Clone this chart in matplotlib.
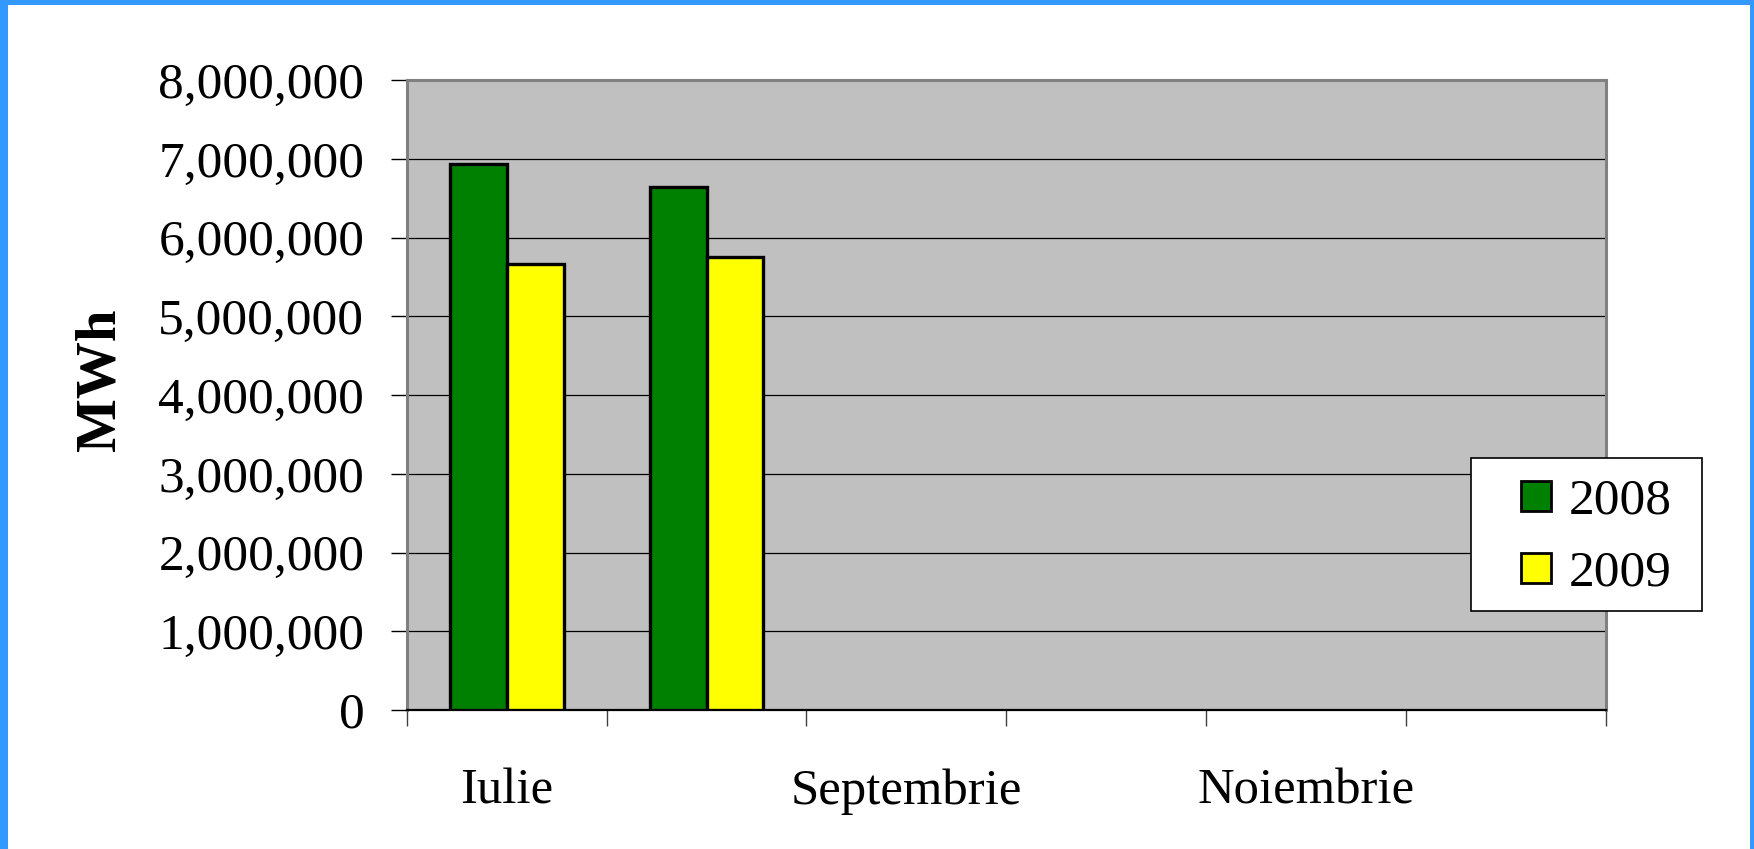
import matplotlib
matplotlib.use("Agg")
import matplotlib.pyplot as plt
from matplotlib.ticker import FuncFormatter, FixedLocator
from matplotlib.lines import Line2D
from matplotlib.patches import Rectangle

# ---- data ----
categories = ["Iulie", "August", "Septembrie", "Octombrie", "Noiembrie", "Decembrie"]
shown_labels = ["Iulie", "", "Septembrie", "", "Noiembrie", ""]
series_names = ["2008", "2009"]
values_2008 = [6934000, 6642000]
values_2009 = [5667000, 5747000]
y_ticks = [0, 1000000, 2000000, 3000000, 4000000, 5000000, 6000000, 7000000, 8000000]
colors = ["#008000", "#FFFF00"]

W, H = 1754, 849
plt.rcParams['font.family'] = ['Liberation Serif', 'DejaVu Serif']

fig = plt.figure(figsize=(W / 100, H / 100), dpi=100)
fig.patch.set_facecolor("white")

def fx(px):
    return px / W

def fy(py):
    return 1 - py / H

left, right, top, bottom = 406.7, 1606, 80, 710
ax = fig.add_axes([fx(left), fy(bottom), fx(right) - fx(left), (bottom - top) / H])
ax.set_facecolor("#C0C0C0")

bw = 0.285
x08 = [i - bw / 2 for i in range(len(values_2008))]
x09 = [i + bw / 2 for i in range(len(values_2009))]
ax.bar(x08, values_2008, width=bw, color=colors[0], edgecolor="black", linewidth=2.4, zorder=3)
ax.bar(x09, values_2009, width=bw, color=colors[1], edgecolor="black", linewidth=2.4, zorder=3)

ax.set_xlim(-0.5, len(categories) - 0.5)
ax.set_ylim(0, 8000000)
ax.yaxis.set_major_locator(FixedLocator(y_ticks))
ax.yaxis.set_major_formatter(FuncFormatter(lambda v, _: f"{int(v):,}"))
ax.yaxis.grid(True, color="black", linewidth=0.9, zorder=1)
ax.set_axisbelow(True)

ax.set_xticks(range(len(categories)))
ax.set_xticklabels(shown_labels)
ax.set_xticks([i - 0.5 for i in range(len(categories) + 1)], minor=True)
ax.tick_params(axis="x", which="major", length=0, pad=42, labelsize=36.5)
ax.tick_params(axis="x", which="minor", length=11.5, width=1, color="#404040")
ax.tick_params(axis="y", which="major", length=11.5, width=1, color="black", pad=19, labelsize=37)

for s in ["top", "right", "left"]:
    ax.spines[s].set_color("#808080")
    ax.spines[s].set_linewidth(2.2)
ax.spines["bottom"].set_color("black")
ax.spines["bottom"].set_linewidth(1.6)

fig.text(fx(101), fy(380), "MWh", rotation=90, fontsize=41, fontweight="bold",
         ha="center", va="center")

# legend
fig.add_artist(Rectangle((fx(1470.7), fy(611.3)), fx(1702.3) - fx(1470.7), (611.3 - 458.3) / H,
                         transform=fig.transFigure, facecolor="white", edgecolor="black",
                         linewidth=1.2, zorder=2))
handles = [Line2D([], [], marker="s", linestyle="none", markersize=22,
                  markerfacecolor=c, markeredgecolor="black", markeredgewidth=2)
           for c in colors]
leg = fig.legend(handles, series_names, loc="upper left",
                 bbox_to_anchor=(fx(1481.7), fy(478)), bbox_transform=fig.transFigure,
                 borderaxespad=0, borderpad=0, frameon=False, fontsize=37,
                 handlelength=2.13, handletextpad=-0.43, labelspacing=0.48,
                 handleheight=0.7)
leg.set_zorder(5)

# blue frame
blue = "#3399FF"
fig.add_artist(Rectangle((0, fy(5)), 1, 5 / H, transform=fig.transFigure, color=blue, lw=0, zorder=6))
fig.add_artist(Rectangle((0, 0), 8 / W, 1, transform=fig.transFigure, color=blue, lw=0, zorder=6))
fig.add_artist(Rectangle((1 - 4.5 / W, 0), 4.5 / W, 1, transform=fig.transFigure, color=blue, lw=0, zorder=6))

fig.savefig("out.png", dpi=100, facecolor="white")
